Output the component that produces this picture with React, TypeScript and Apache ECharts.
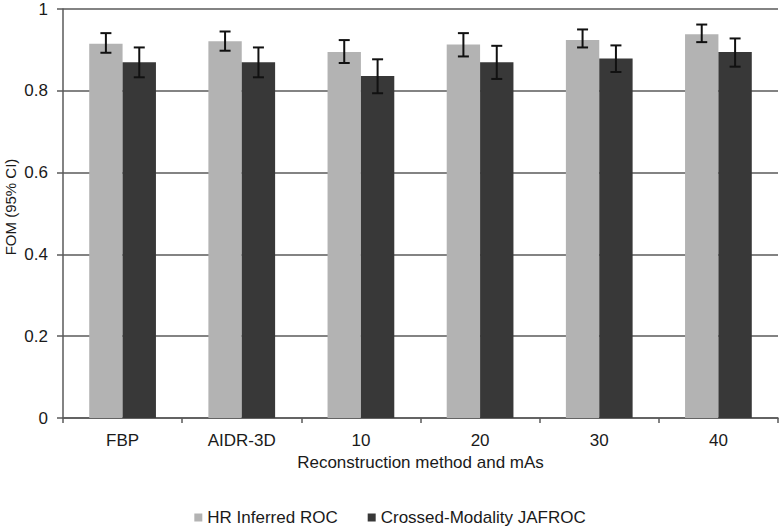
import React, { useEffect, useRef } from "react";
import * as echarts from "echarts";

const categories = ["FBP", "AIDR-3D", "10", "20", "30", "40"];
const seriesNames = ["HR Inferred ROC", "Crossed-Modality JAFROC"];
const hrValues = [0.915, 0.921, 0.895, 0.913, 0.924, 0.938];
const hrLow = [0.893, 0.898, 0.868, 0.884, 0.906, 0.919];
const hrHigh = [0.941, 0.945, 0.924, 0.941, 0.950, 0.962];
const cmValues = [0.870, 0.870, 0.836, 0.870, 0.879, 0.895];
const cmLow = [0.833, 0.833, 0.794, 0.829, 0.846, 0.859];
const cmHigh = [0.906, 0.906, 0.877, 0.910, 0.911, 0.928];
const yTicks = [0, 0.2, 0.4, 0.6, 0.8, 1];
const yTitle = "FOM (95% CI)";
const xTitle = "Reconstruction method and mAs";

const FONT = "'Liberation Sans', Arial, sans-serif";
const TEXT = "#1a1a1a";
const LINE = "#5a5a5a";
const CAT_GAP = 0.44;

export default function App() {
  const ref = useRef<HTMLDivElement>(null);
  useEffect(() => {
    if (!ref.current) return;
    const chart = echarts.init(ref.current, null, { renderer: "svg" });
    const errData: number[][] = [];
    categories.forEach((_, i) => {
      errData.push([i, hrLow[i], hrHigh[i], 0]);
      errData.push([i, cmLow[i], cmHigh[i], 1]);
    });
    chart.setOption({
      animation: false,
      textStyle: { fontFamily: FONT },
      grid: {
        left: 63,
        right: 2,
        top: 9,
        bottom: 110,
        containLabel: false,
        outerBoundsMode: "none",
      },
      graphic: [
        {
          type: "text",
          x: 10,
          y: 207,
          rotation: Math.PI / 2,
          style: {
            text: yTitle,
            fontFamily: FONT,
            fontSize: 15,
            fill: TEXT,
            align: "center",
            verticalAlign: "middle",
          },
        },
      ],
      legend: {
        data: seriesNames,
        left: "center",
        top: 507,
        padding: 2,
        icon: "rect",
        itemWidth: 8,
        itemHeight: 8,
        itemGap: 30,
        textStyle: { fontFamily: FONT, fontSize: 17, color: TEXT },
      },
      xAxis: {
        type: "category",
        data: categories,
        name: xTitle,
        nameLocation: "middle",
        nameGap: 34,
        nameTextStyle: { fontFamily: FONT, fontSize: 17, color: TEXT },
        axisLine: { lineStyle: { color: LINE, width: 1.5 } },
        axisTick: { show: true, length: 5, lineStyle: { color: LINE, width: 1.5 } },
        axisLabel: { fontFamily: FONT, fontSize: 17, color: TEXT, margin: 14 },
      },
      yAxis: {
        type: "value",
        min: yTicks[0],
        max: yTicks[yTicks.length - 1],
        interval: 0.2,
        axisLine: { show: true, lineStyle: { color: LINE, width: 1.5 } },
        axisTick: { show: true, length: 6, lineStyle: { color: LINE, width: 1.5 } },
        axisLabel: { fontFamily: FONT, fontSize: 17, color: TEXT, margin: 15 },
        splitLine: { lineStyle: { color: LINE, width: 1.5 } },
      },
      series: [
        {
          name: seriesNames[0],
          type: "bar",
          data: hrValues,
          barGap: "0%",
          barCategoryGap: CAT_GAP * 100 + "%",
          itemStyle: { color: "#b3b3b3" },
        },
        {
          name: seriesNames[1],
          type: "bar",
          data: cmValues,
          barGap: "0%",
          barCategoryGap: CAT_GAP * 100 + "%",
          itemStyle: { color: "#383838" },
        },
        {
          type: "custom",
          z: 5,
          data: errData,
          encode: { x: 0, y: [1, 2] },
          renderItem: (params: any, api: any) => {
            const idx = api.value(0);
            const low = api.value(1);
            const high = api.value(2);
            const s = api.value(3);
            const band = api.size([1, 0])[0];
            const barW = (band * (1 - CAT_GAP)) / 2;
            const pHigh = api.coord([idx, high]);
            const pLow = api.coord([idx, low]);
            const x = pHigh[0] + (s === 0 ? -1 : 1) * (barW / 2);
            const cap = 5.5;
            const style = { stroke: "#111", lineWidth: 2 };
            return {
              type: "group",
              children: [
                { type: "line", shape: { x1: x, y1: pHigh[1], x2: x, y2: pLow[1] }, style },
                { type: "line", shape: { x1: x - cap, y1: pHigh[1], x2: x + cap, y2: pHigh[1] }, style },
                { type: "line", shape: { x1: x - cap, y1: pLow[1], x2: x + cap, y2: pLow[1] }, style },
              ],
            };
          },
        },
      ],
    });
    return () => chart.dispose();
  }, []);
  return (
    <div
      ref={ref}
      style={{ position: "absolute", left: 0, top: 0, width: 780, height: 528, background: "#fff" }}
    />
  );
}
